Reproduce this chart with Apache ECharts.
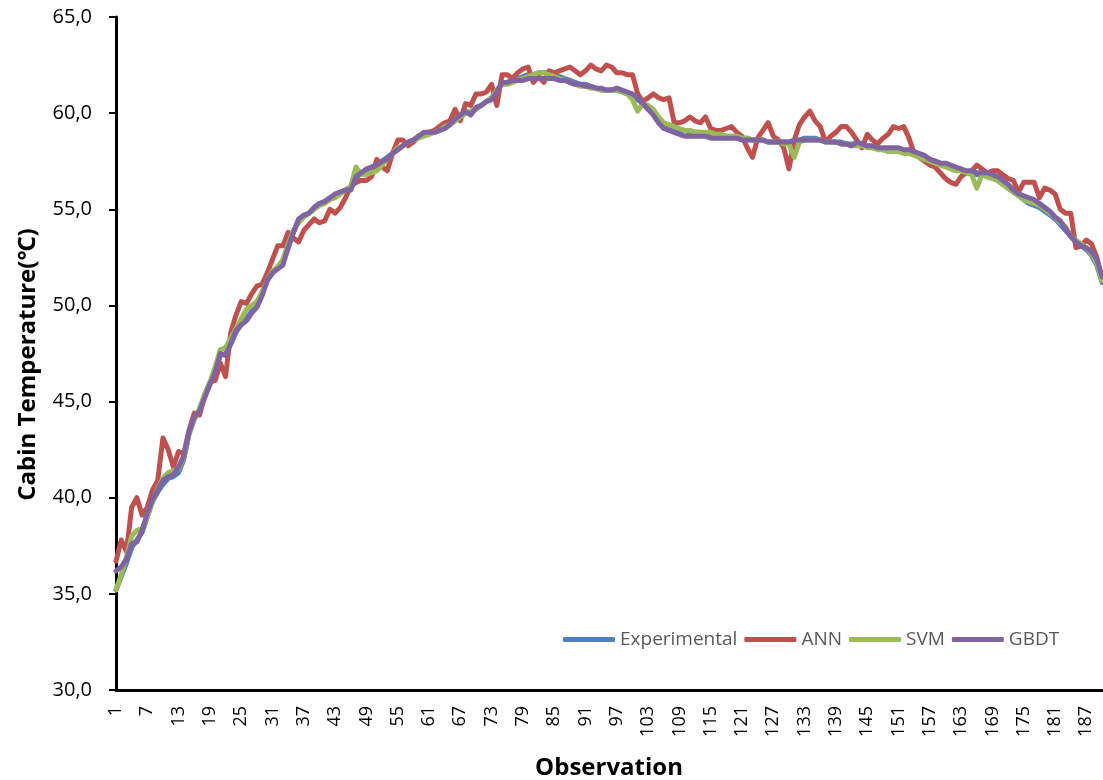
<!DOCTYPE html>
<html>
<head>
<meta charset="utf-8">
<script src="https://cdn.jsdelivr.net/npm/echarts@6/dist/echarts.min.js"></script>
<style>
  html, body { margin: 0; padding: 0; background: #fff; }
  #chart { width: 1103px; height: 780px; }
</style>
</head>
<body>
<div id="chart"></div>
<script>
var observations = Array.from({ length: 190 }, function (d, i) { return String(i + 1); });

var experimental = [
    35.2, 35.9, 36.6, 37.4, 37.8, 38.2, 39.0, 39.8, 40.3, 40.7,
    41.0, 41.1, 41.3, 42.0, 43.3, 44.1, 44.6, 45.3, 45.9, 46.6,
    47.4, 47.5, 48.0, 48.6, 49.0, 49.3, 49.7, 50.0, 50.6, 51.3,
    51.7, 52.0, 52.3, 53.0, 53.8, 54.4, 54.6, 54.8, 55.1, 55.3,
    55.4, 55.6, 55.7, 55.9, 56.0, 56.1, 56.6, 56.9, 57.0, 57.2,
    57.3, 57.5, 57.7, 57.9, 58.1, 58.3, 58.5, 58.6, 58.8, 58.9,
    59.0, 59.0, 59.1, 59.2, 59.4, 59.6, 59.8, 60.0, 60.0, 60.2,
    60.4, 60.6, 60.8, 61.2, 61.5, 61.6, 61.7, 61.8, 61.9, 62.0,
    62.0, 62.1, 62.1, 62.1, 62.0, 61.9, 61.8, 61.7, 61.6, 61.5,
    61.5, 61.4, 61.3, 61.2, 61.2, 61.2, 61.2, 61.1, 61.0, 60.9,
    60.7, 60.5, 60.2, 60.0, 59.7, 59.5, 59.3, 59.2, 59.1, 59.1,
    59.0, 59.0, 59.0, 58.9, 58.9, 58.9, 58.8, 58.8, 58.8, 58.7,
    58.7, 58.7, 58.6, 58.6, 58.6, 58.5, 58.5, 58.5, 58.5, 58.5,
    58.5, 58.6, 58.7, 58.7, 58.7, 58.6, 58.6, 58.5, 58.5, 58.5,
    58.4, 58.4, 58.4, 58.3, 58.3, 58.2, 58.2, 58.1, 58.1, 58.1,
    58.0, 58.0, 57.9, 57.9, 57.8, 57.7, 57.6, 57.5, 57.4, 57.3,
    57.2, 57.1, 57.0, 56.9, 56.9, 56.8, 56.8, 56.7, 56.6, 56.5,
    56.3, 56.1, 55.9, 55.7, 55.5, 55.3, 55.2, 55.1, 54.9, 54.7,
    54.5, 54.2, 53.9, 53.6, 53.3, 53.1, 52.9, 52.6, 52.1, 51.2
];

var ann = [
    36.7, 37.8, 37.2, 39.5, 40.0, 39.1, 39.5, 40.4, 40.9, 43.1,
    42.5, 41.6, 42.4, 42.3, 43.5, 44.4, 44.3, 45.3, 46.0, 46.1,
    47.0, 46.3, 48.6, 49.5, 50.2, 50.1, 50.6, 51.0, 51.1, 51.7,
    52.4, 53.1, 53.1, 53.8, 53.5, 53.3, 53.9, 54.2, 54.5, 54.3,
    54.4, 55.0, 54.8, 55.1, 55.6, 56.2, 56.4, 56.5, 56.5, 56.7,
    57.6, 57.2, 57.0, 57.9, 58.6, 58.6, 58.3, 58.5, 58.8, 58.9,
    59.0, 59.1, 59.3, 59.5, 59.6, 60.2, 59.6, 60.5, 60.4, 61.0,
    61.0, 61.1, 61.5, 60.4, 62.0, 62.0, 61.8, 62.1, 62.3, 62.4,
    61.6, 61.9, 61.6, 62.2, 62.1, 62.2, 62.3, 62.4, 62.2, 62.0,
    62.2, 62.5, 62.3, 62.2, 62.5, 62.4, 62.1, 62.1, 62.0, 62.0,
    61.0, 60.6, 60.8, 61.0, 60.8, 60.7, 60.8, 59.5, 59.5, 59.6,
    59.8, 59.6, 59.5, 59.8, 59.2, 59.1, 59.1, 59.2, 59.3, 59.0,
    58.8, 58.2, 57.7, 58.7, 59.1, 59.5, 58.8, 58.6, 58.2, 57.1,
    58.6, 59.4, 59.8, 60.1, 59.6, 59.3, 58.5, 58.8, 59.0, 59.3,
    59.3, 59.0, 58.6, 58.2, 58.9, 58.6, 58.4, 58.7, 58.9, 59.3,
    59.2, 59.3, 58.7, 57.9, 57.7, 57.5, 57.3, 57.2, 56.9, 56.6,
    56.4, 56.3, 56.7, 56.9, 57.0, 57.3, 57.1, 56.9, 57.0, 57.0,
    56.8, 56.6, 56.5, 55.9, 56.4, 56.4, 56.4, 55.6, 56.1, 56.0,
    55.8, 55.0, 54.8, 54.8, 53.0, 53.1, 53.4, 53.2, 52.5, 51.4
];

var svm = [
    35.2, 36.0, 36.9, 38.0, 38.3, 38.4, 39.0, 39.8, 40.5, 41.0,
    41.3, 41.4, 41.5, 42.1, 43.3, 44.1, 44.6, 45.4, 46.0, 46.8,
    47.7, 47.8, 48.3, 48.8, 49.3, 49.8, 50.0, 50.2, 50.7, 51.3,
    51.8, 52.0, 52.4, 53.2, 53.9, 54.3, 54.6, 54.8, 55.0, 55.2,
    55.3, 55.5, 55.6, 55.8, 56.0, 56.2, 57.2, 56.8, 56.8, 56.9,
    57.0, 57.3, 57.6, 57.9, 58.2, 58.3, 58.5, 58.6, 58.7, 58.8,
    58.9, 59.0, 59.1, 59.3, 59.4, 59.6, 59.8, 60.0, 60.1, 60.2,
    60.4, 60.6, 60.8, 61.2, 61.5, 61.5, 61.6, 61.7, 61.8, 61.9,
    62.0, 62.1, 62.1, 62.0, 61.9, 61.8, 61.7, 61.6, 61.5, 61.4,
    61.4, 61.3, 61.3, 61.2, 61.2, 61.2, 61.2, 61.1, 61.0, 60.7,
    60.1, 60.5, 60.4, 60.2, 59.8, 59.5, 59.4, 59.3, 59.2, 59.1,
    59.1, 59.0, 59.0, 59.0, 59.0, 58.9, 58.9, 58.8, 58.8, 58.8,
    58.7, 58.7, 58.6, 58.6, 58.6, 58.5, 58.5, 58.5, 58.4, 58.4,
    57.7, 58.5, 58.6, 58.6, 58.6, 58.6, 58.5, 58.5, 58.5, 58.4,
    58.4, 58.3, 58.3, 58.3, 58.2, 58.2, 58.1, 58.1, 58.0, 58.0,
    58.0, 57.9, 57.9, 57.8, 57.7, 57.6, 57.5, 57.4, 57.3, 57.2,
    57.1, 57.0, 57.0, 56.9, 56.8, 56.1, 56.8, 56.7, 56.6, 56.5,
    56.3, 56.1, 55.9, 55.7, 55.5, 55.4, 55.3, 55.2, 55.0, 54.8,
    54.6, 54.3, 54.1, 53.6, 53.4, 53.2, 53.0, 52.7, 52.2, 51.3
];

var gbdt = [
    36.2, 36.4, 36.8, 37.6, 37.7, 38.3, 39.2, 39.9, 40.4, 40.9,
    41.1, 41.2, 41.6, 42.2, 43.4, 44.2, 44.5, 45.2, 45.9, 46.5,
    47.5, 47.4, 48.0, 48.7, 49.0, 49.2, 49.6, 49.9, 50.5, 51.3,
    51.7, 51.9, 52.1, 53.0, 53.8, 54.5, 54.7, 54.8, 55.1, 55.3,
    55.4, 55.6, 55.8, 55.9, 56.0, 56.0, 56.7, 56.9, 57.1, 57.2,
    57.3, 57.5, 57.6, 57.9, 58.1, 58.3, 58.5, 58.6, 58.8, 59.0,
    59.0, 59.0, 59.1, 59.2, 59.4, 59.7, 59.9, 60.1, 59.9, 60.3,
    60.4, 60.6, 60.7, 61.1, 61.6, 61.6, 61.7, 61.7, 61.7, 61.8,
    61.8, 61.8, 61.8, 61.8, 61.8, 61.7, 61.7, 61.6, 61.5, 61.5,
    61.4, 61.4, 61.3, 61.3, 61.2, 61.2, 61.3, 61.2, 61.1, 61.0,
    60.8, 60.5, 60.2, 59.9, 59.5, 59.2, 59.1, 59.0, 58.9, 58.8,
    58.8, 58.8, 58.8, 58.8, 58.7, 58.7, 58.7, 58.7, 58.7, 58.7,
    58.6, 58.6, 58.6, 58.6, 58.6, 58.5, 58.5, 58.5, 58.5, 58.5,
    58.6, 58.6, 58.6, 58.6, 58.6, 58.6, 58.5, 58.5, 58.5, 58.4,
    58.4, 58.3, 58.5, 58.4, 58.3, 58.3, 58.2, 58.2, 58.2, 58.2,
    58.2, 58.1, 58.1, 58.0, 57.9, 57.8, 57.6, 57.5, 57.4, 57.4,
    57.3, 57.2, 57.1, 57.0, 57.0, 56.9, 56.9, 56.9, 56.8, 56.7,
    56.5, 56.3, 56.0, 55.8, 55.7, 55.6, 55.5, 55.3, 55.1, 54.9,
    54.6, 54.4, 54.0, 53.6, 53.3, 53.1, 53.0, 52.8, 52.4, 51.5
];

var seriesNames = ['Experimental', 'ANN', 'SVM', 'GBDT'];
var seriesColors = ['#4f81bd', '#c0504d', '#9bbb59', '#8064a2'];
var seriesData = [experimental, ann, svm, gbdt];

var font = '"Open Sans", "Noto Sans", sans-serif';

var series = seriesNames.map(function (name, k) {
    return {
        name: name,
        type: 'line',
        data: seriesData[k],
        symbol: 'none',
        color: seriesColors[k],
        lineStyle: { width: 5, color: seriesColors[k], join: 'round', cap: 'round' }
    };
});

var option = {
    animation: false,
    backgroundColor: '#fff',
    // keep the plot box fixed, labels and names sit outside it
    grid: { left: 116, right: 1, top: 17, bottom: 90, outerBoundsMode: 'none', containLabel: false },
    legend: {
        data: seriesNames,
        left: 558,
        top: 625,
        icon: 'roundRect',
        itemWidth: 52,
        itemHeight: 5,
        itemGap: 7,
        textStyle: { color: '#595959', fontSize: 19, fontFamily: font }
    },
    xAxis: {
        type: 'category',
        data: observations,
        boundaryGap: false,
        name: 'Observation',
        nameLocation: 'middle',
        nameGap: 66,
        nameTextStyle: { fontSize: 24, fontWeight: 'bold', color: '#000', fontFamily: font },
        axisLine: { lineStyle: { color: '#000', width: 3 } },
        axisTick: { show: false },
        axisLabel: { interval: 5, rotate: 90, margin: 16, fontSize: 18, color: '#000', fontFamily: font },
        splitLine: { show: false }
    },
    yAxis: {
        type: 'value',
        min: 30,
        max: 65,
        interval: 5,
        name: 'Cabin Temperature(℃)',
        nameLocation: 'middle',
        nameGap: 76,
        nameTextStyle: {
            fontSize: 24, fontWeight: 'bold', color: '#000', fontFamily: font,
            padding: [0, 22, 0, 0]
        },
        axisLine: { show: true, lineStyle: { color: '#000', width: 3 } },
        axisTick: { show: true, length: 7, lineStyle: { color: '#000', width: 2 } },
        axisLabel: {
            margin: 24,
            fontSize: 20,
            color: '#000',
            fontFamily: font,
            formatter: function (v) { return v.toFixed(1).replace('.', ','); }
        },
        splitLine: { show: false }
    },
    series: series
};

var myChart = echarts.init(document.getElementById('chart'));
myChart.setOption(option);
</script>
</body>
</html>
